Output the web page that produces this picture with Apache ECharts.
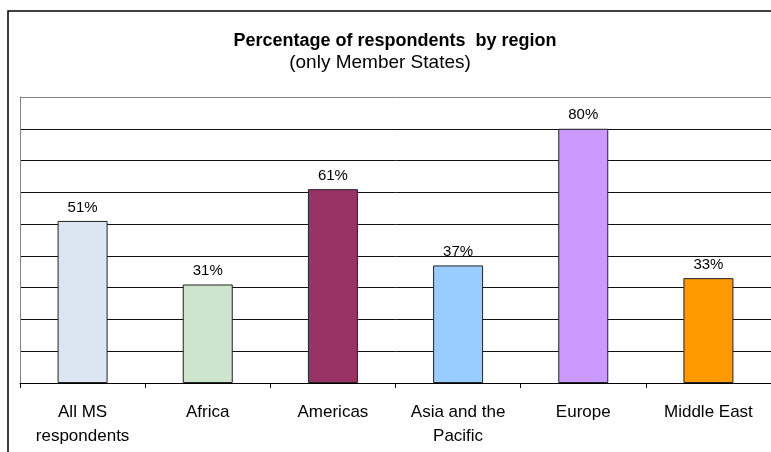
<!DOCTYPE html>
<html>
<head>
<meta charset="utf-8">
<script src="https://cdn.jsdelivr.net/npm/echarts@6/dist/echarts.min.js"></script>
<style>
html,body{margin:0;padding:0;background:#fff;}
#chart{width:771px;height:452px;}
</style>
</head>
<body>
<div id="chart"></div>
<script>
const categories = ['All MS\nrespondents', 'Africa', 'Americas', 'Asia and the\nPacific', 'Europe', 'Middle East'];
const values = [51, 31, 61, 37, 80, 33];
const barColors = ['#dce6f2', '#cce5cc', '#993366', '#99ccff', '#cc99ff', '#ff9900'];
const titleText = 'Percentage of respondents  by region';
const subtitleText = '(only Member States)';

const FONT = '"Liberation Sans", Arial, sans-serif';
const chart = echarts.init(document.getElementById('chart'), null, {renderer: 'canvas'});
chart.setOption({
  animation: false,
  backgroundColor: '#fff',
  title: [{
    text: titleText,
    left: 390,
    textAlign: 'center',
    top: 27,
    textStyle: {fontFamily: FONT, fontSize: 18, fontWeight: 'bold', color: '#000'}
  }, {
    text: subtitleText,
    left: 375,
    textAlign: 'center',
    top: 48,
    textStyle: {fontFamily: FONT, fontSize: 19, fontWeight: 'normal', color: '#000'}
  }],
  graphic: [{
    type: 'rect',
    shape: {x: 8, y: 11, width: 900, height: 600},
    style: {fill: 'none', stroke: '#000', lineWidth: 1.5},
    silent: true, z: -1
  }],
  grid: {left: 20, top: 97, width: 754, height: 286, containLabel: false},
  xAxis: {
    type: 'category',
    data: categories,
    axisLine: {show: true, lineStyle: {color: '#000', width: 1}},
    axisTick: {show: true, length: 5, lineStyle: {color: '#000'}},
    axisLabel: {fontFamily: FONT, fontSize: 17, color: '#000', margin: 17, lineHeight: 24, interval: 0},
    splitLine: {show: false}
  },
  yAxis: {
    type: 'value',
    min: 0, max: 90, interval: 10,
    axisLabel: {show: false},
    axisTick: {show: false},
    axisLine: {show: true, lineStyle: {color: '#808080'}},
    splitLine: {show: true, lineStyle: {color: ['#000','#111','#111','#111','#111','#111','#111','#111','#111','#808080'], width: 1}}
  },
  series: [{
    type: 'bar',
    data: values.map((v, i) => ({value: v, itemStyle: {color: barColors[i]}})),
    barWidth: 50,
    itemStyle: {borderColor: '#222', borderWidth: 1},
    label: {
      show: true, position: 'top', distance: 6,
      formatter: p => p.value + '%',
      fontFamily: FONT, fontSize: 15, color: '#000'
    }
  }]
});
</script>
</body>
</html>
